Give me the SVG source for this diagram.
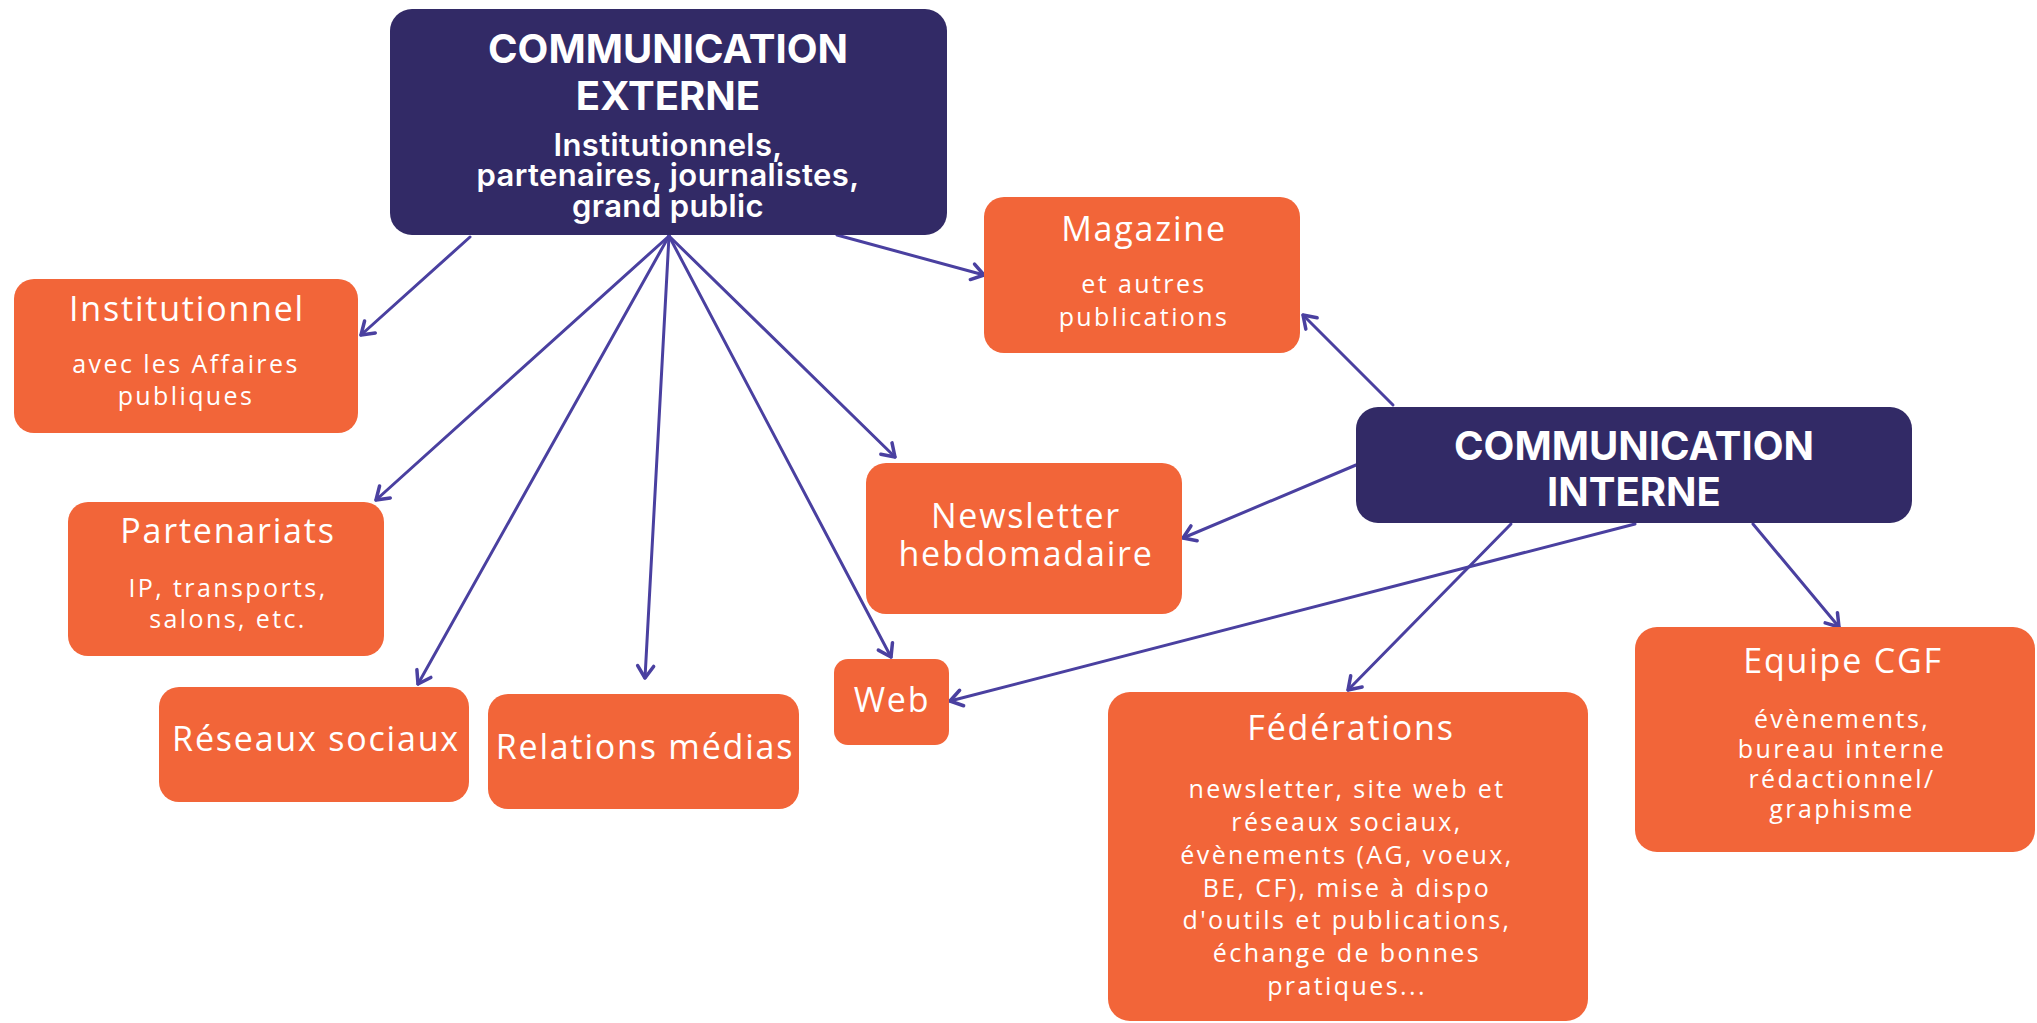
<svg xmlns="http://www.w3.org/2000/svg" width="2037" height="1023" viewBox="0 0 2037 1023">
<style>
.dark{fill:#322a66}
.org{fill:#f26539}
.hd{font-family:Inter,"Liberation Sans",sans-serif;font-weight:700;fill:#fff;text-anchor:middle;font-size:40px}
.sub{font-family:Inter,"Liberation Sans",sans-serif;font-weight:600;fill:#fff;text-anchor:middle;font-size:31px;letter-spacing:0.4px}
.t{font-family:"Open Sans","Liberation Sans",sans-serif;font-weight:500;fill:#fff;text-anchor:middle;font-size:34px;letter-spacing:1.8px}
.b{font-family:"Open Sans","Liberation Sans",sans-serif;font-weight:500;fill:#fff;text-anchor:middle;font-size:25px;letter-spacing:2.4px}
.c{fill:none;stroke:#4a40a0;stroke-width:3;stroke-linecap:round;marker-end:url(#ah)}
</style>
<defs>
<marker id="ah" markerUnits="userSpaceOnUse" markerWidth="30" markerHeight="30" refX="0" refY="0" viewBox="-15 -15 30 30" orient="auto" overflow="visible">
<path d="M-12,-8 L0,0 L-12,8" fill="none" stroke="#4a40a0" stroke-width="3.5" stroke-linecap="round" stroke-linejoin="round"/>
</marker>
</defs>
<rect width="2037" height="1023" fill="#fff"/>
<g id="connectors">
<path class="c" d="M470,237 L361,335"/>
<path class="c" d="M669,236 L376,500"/>
<path class="c" d="M669,236 L418,684"/>
<path class="c" d="M669,236 L645,678"/>
<path class="c" d="M669,236 L891,657"/>
<path class="c" d="M669,236 L895,457"/>
<path class="c" d="M837,235 L984,275"/>
<path class="c" d="M1393,405 L1303,315"/>
<path class="c" d="M1356,465 L1183,538"/>
<path class="c" d="M1635,524 L950,701"/>
<path class="c" d="M1511,524 L1348,690"/>
<path class="c" d="M1753,524 L1839,627"/>
</g>
<g id="ext">
<rect class="dark" x="390" y="9" width="557" height="226" rx="22"/>
<text class="hd" x="668" y="63">COMMUNICATION</text>
<text class="hd" x="668" y="110">EXTERNE</text>
<text class="sub" x="668" y="156">Institutionnels,</text>
<text class="sub" x="668" y="186">partenaires, journalistes,</text>
<text class="sub" x="668" y="217">grand public</text>
</g>
<g id="int">
<rect class="dark" x="1356" y="407" width="556" height="116" rx="22"/>
<text class="hd" x="1634" y="460">COMMUNICATION</text>
<text class="hd" x="1634" y="506">INTERNE</text>
</g>
<g id="inst">
<rect class="org" x="14" y="279" width="344" height="154" rx="20"/>
<text class="t" x="187" y="321">Institutionnel</text>
<text class="b" x="186" y="373">avec les Affaires</text>
<text class="b" x="186" y="405">publiques</text>
</g>
<g id="part">
<rect class="org" x="68" y="502" width="316" height="154" rx="20"/>
<text class="t" x="228" y="543">Partenariats</text>
<text class="b" x="228" y="597">IP, transports,</text>
<text class="b" x="228" y="628">salons, etc.</text>
</g>
<g id="res">
<rect class="org" x="159" y="687" width="310" height="115" rx="20"/>
<text class="t" x="316" y="751">Réseaux sociaux</text>
</g>
<g id="rel">
<rect class="org" x="488" y="694" width="311" height="115" rx="20"/>
<text class="t" x="645" y="759">Relations médias</text>
</g>
<g id="web">
<rect class="org" x="834" y="659" width="115" height="86" rx="14"/>
<text class="t" x="892" y="712">Web</text>
</g>
<g id="news">
<rect class="org" x="866" y="463" width="316" height="151" rx="20"/>
<text class="t" x="1026" y="528">Newsletter</text>
<text class="t" x="1026" y="566">hebdomadaire</text>
</g>
<g id="mag">
<rect class="org" x="984" y="197" width="316" height="156" rx="20"/>
<text class="t" x="1144" y="241">Magazine</text>
<text class="b" x="1144" y="293">et autres</text>
<text class="b" x="1144" y="326">publications</text>
</g>
<g id="equipe">
<rect class="org" x="1635" y="627" width="400" height="225" rx="22"/>
<text class="t" x="1843" y="673">Equipe CGF</text>
<text class="b" x="1842" y="728">évènements,</text>
<text class="b" x="1842" y="758">bureau interne</text>
<text class="b" x="1842" y="788">rédactionnel/</text>
<text class="b" x="1842" y="818">graphisme</text>
</g>
<g id="fed">
<rect class="org" x="1108" y="692" width="480" height="329" rx="22"/>
<text class="t" x="1351" y="740">Fédérations</text>
<text class="b" x="1347" y="798">newsletter, site web et</text>
<text class="b" x="1347" y="831">réseaux sociaux,</text>
<text class="b" x="1347" y="864">évènements (AG, voeux,</text>
<text class="b" x="1347" y="897">BE, CF), mise à dispo</text>
<text class="b" x="1347" y="929">d'outils et publications,</text>
<text class="b" x="1347" y="962">échange de bonnes</text>
<text class="b" x="1347" y="995">pratiques...</text>
</g>
</svg>
